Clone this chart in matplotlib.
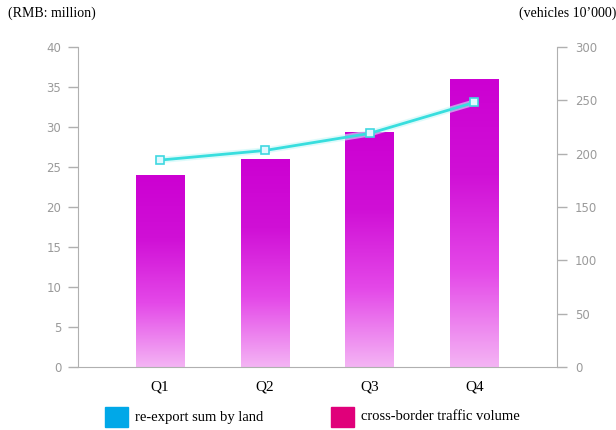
import numpy as np
import matplotlib.pyplot as plt
from matplotlib.patches import Rectangle
from matplotlib.colors import LinearSegmentedColormap

quarters = ["Q1", "Q2", "Q3", "Q4"]
traffic = [24.0, 26.0, 29.4, 36.0]       # bars, left axis
reexport = [194, 203, 219, 248]          # line, right axis

left_ticks = [0, 5, 10, 15, 20, 25, 30, 35, 40]
right_ticks = [0, 50, 100, 150, 200, 250, 300]

fig = plt.figure(figsize=(6.16, 4.30), dpi=100)
ax = fig.add_axes([0.1266, 0.1465, 0.7776, 0.7442])
ax2 = ax.twinx()

x = np.arange(len(quarters))
bar_w = 0.46

# bars with a vertical gradient: deep magenta at top fading to pale pink
grad = LinearSegmentedColormap.from_list("mag", ["#f4b4f4", "#e448e8", "#d010d6", "#cc00d2"])
bars = ax.bar(x, traffic, width=bar_w, color="none", edgecolor="none", zorder=2)
for b in bars:
    x0, y0 = b.get_x(), b.get_y()
    w, h = b.get_width(), b.get_height()
    img = ax.imshow(np.linspace(0, 1, 256).reshape(-1, 1), cmap=grad,
                    extent=[x0, x0 + w, y0, y0 + h], origin="lower",
                    aspect="auto", zorder=2)
    img.set_clip_path(b)

ax.set_xlim(-0.785, 3.79)
ax.set_ylim(0, 40)
ax.set_yticks(left_ticks)
ax2.set_ylim(0, 300)
ax2.set_yticks(right_ticks)

# line on the right axis, with a soft glow underneath
ax2.plot(x, reexport, color="#c8f8f8", lw=4.5, alpha=0.6, zorder=3,
         solid_capstyle="round")
ax2.plot(x, reexport, color="#38dede", lw=2.0, zorder=4, marker="s",
         markersize=5.5, markerfacecolor="#e0f8ff", markeredgecolor="#40d8e0",
         markeredgewidth=1.2)

ax.set_xticks(x)
ax.set_xticklabels(quarters, family="Liberation Serif", fontsize=11,
                   color="black")

spine_c = "#b0b0b0"
for a in (ax, ax2):
    for s in a.spines.values():
        s.set_visible(False)
    a.tick_params(axis="y", colors=spine_c, labelcolor="#9a9a9a",
                  labelsize=8.5, length=7, width=1)
ax.spines["left"].set_visible(True)
ax.spines["left"].set_color(spine_c)
ax.spines["bottom"].set_visible(True)
ax.spines["bottom"].set_color(spine_c)
ax2.spines["right"].set_visible(True)
ax2.spines["right"].set_color(spine_c)
ax.tick_params(axis="x", length=0, pad=10)
ax.tick_params(axis="y", pad=5)
ax2.tick_params(axis="y", pad=6)
ax.set_zorder(1)
ax2.set_zorder(2)
ax2.patch.set_visible(False)

fig.text(8 / 616, 1 - 13 / 430, "(RMB: million)", family="Liberation Serif",
         fontsize=10, va="center", ha="left")
fig.text(1.0, 1 - 13 / 430, "(vehicles 10\u2019000)", family="Liberation Serif",
         fontsize=10, va="center", ha="right")

# legend drawn by hand along the bottom
legend_items = [("re-export sum by land", "#00a8e8", 105),
                ("cross-border traffic volume", "#e0007a", 331)]
for label, col, px in legend_items:
    fig.patches.append(Rectangle((px / 616, 1 - 427 / 430), 23 / 616, 20 / 430,
                                 transform=fig.transFigure, color=col))
    fig.text((px + 30) / 616, 1 - 417 / 430, label, family="Liberation Serif",
             fontsize=10.5, va="center", ha="left")

fig.savefig("out.png", dpi=100)
